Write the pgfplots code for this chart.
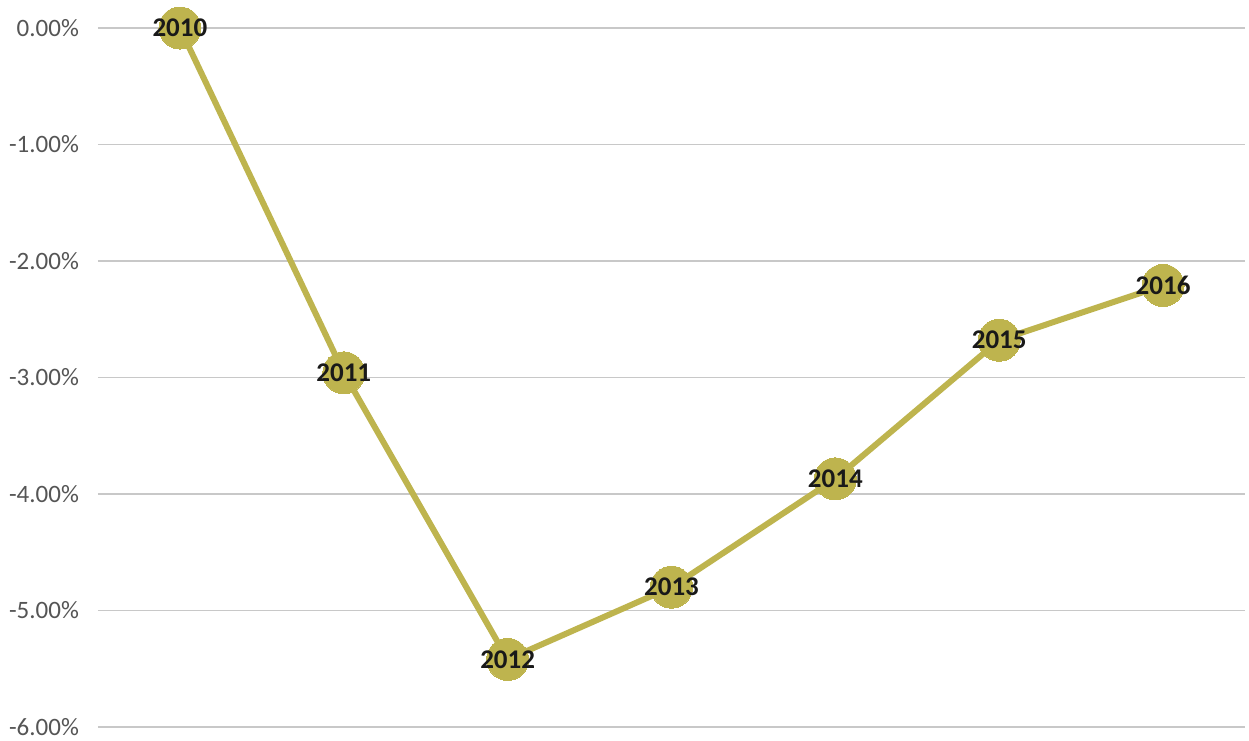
\documentclass[border=0pt]{standalone}
\usepackage{pgfplots}
\pgfplotsset{compat=1.18}
\usepackage{fontspec}
\setmainfont{Carlito}
\definecolor{olive}{RGB}{190,180,78}
\definecolor{gridc}{RGB}{200,200,200}
\definecolor{tickc}{RGB}{85,85,85}
\begin{document}
\begin{tikzpicture}
\begin{axis}[
  at={(0,0)}, anchor=south west,
  scale only axis, width=573.5pt, height=349.5pt,
  xmin=-0.5, xmax=6.5, ymin=-6, ymax=0,
  xtick=\empty,
  ytick={-6,-5,-4,-3,-2,-1,0},
  yticklabels={-6.00\%,-5.00\%,-4.00\%,-3.00\%,-2.00\%,-1.00\%,0.00\%},
  yticklabel style={font=\fontsize{12.5}{14}\selectfont, text=tickc, xshift=-6pt},
  ymajorgrids, major grid style={gridc, line width=0.8pt},
  axis line style={draw=none}, tick style={draw=none},
  clip=false,
  point meta=explicit symbolic,
  nodes near coords,
  nodes near coords align={center},
  every node near coord/.append style={anchor=center, font=\fontsize{13.5}{15}\selectfont\bfseries, text=black!90},
]
\addplot[color=olive, line width=3pt, mark=*, mark size=10.5pt, mark options={fill=olive, draw=olive, line width=0pt}] table[meta=label] {
x y label
0 0.00 2010
1 -2.96 2011
2 -5.42 2012
3 -4.80 2013
4 -3.87 2014
5 -2.68 2015
6 -2.21 2016
};
\end{axis}
\pgfresetboundingbox
\path[use as bounding box] (-49pt,-6.5pt) rectangle (575.5pt,363.5pt);
\end{tikzpicture}
\end{document}
